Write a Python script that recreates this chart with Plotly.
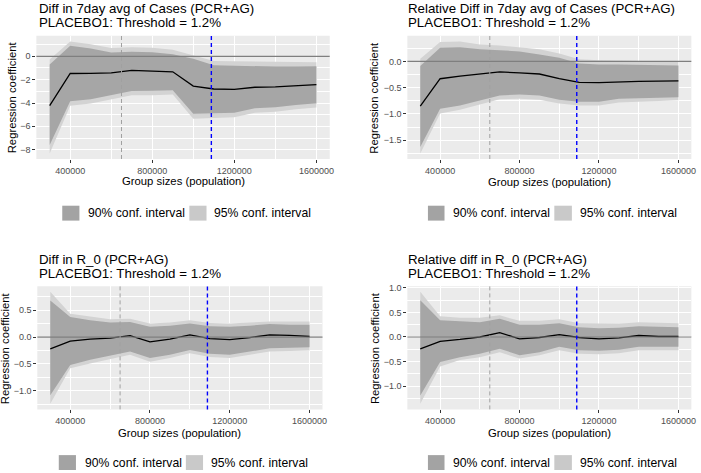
import plotly.graph_objects as go

# ---------------- data ----------------
group_sizes = [300000, 400000, 500000, 600000, 700000, 800000, 900000,
               1000000, 1100000, 1200000, 1300000, 1400000, 1500000, 1600000]

x_tick_vals = [400000, 800000, 1200000, 1600000]
grey_vline = 650000
blue_vline = 1088000

titles = ["Diff in 7day avg of Cases (PCR+AG)",
          "Relative Diff in 7day avg of Cases (PCR+AG)",
          "Diff in R_0 (PCR+AG)",
          "Relative diff in R_0 (PCR+AG)"]
subtitle = "PLACEBO1: Threshold = 1.2%"
x_title = "Group sizes (population)"
y_title = "Regression coefficient"
legend_labels = ["90% conf. interval", "95% conf. interval"]

# Panel 1: Diff in 7day avg of Cases
coef_1 = [-4.23, -1.47, -1.46, -1.41, -1.20, -1.26, -1.33, -2.55, -2.80, -2.83, -2.65, -2.62, -2.53, -2.42]
lo90_1 = [-7.60, -3.85, -3.68, -3.31, -2.97, -2.96, -2.90, -4.93, -4.90, -4.83, -4.45, -4.37, -4.18, -4.02]
hi90_1 = [-0.71, 0.90, 0.66, 0.33, 0.40, 0.36, 0.18, -0.21, -0.76, -0.80, -0.88, -0.88, -0.87, -0.85]
lo95_1 = [-8.32, -4.24, -4.05, -3.70, -3.34, -3.33, -3.28, -5.36, -5.29, -5.22, -4.84, -4.74, -4.53, -4.38]
hi95_1 = [-0.28, 1.28, 1.03, 0.72, 0.78, 0.74, 0.57, 0.12, -0.39, -0.43, -0.46, -0.48, -0.49, -0.50]

# Panel 2: Relative Diff in 7day avg of Cases
coef_2 = [-0.85, -0.33, -0.28, -0.24, -0.20, -0.22, -0.24, -0.33, -0.40, -0.405, -0.39, -0.38, -0.375, -0.37]
lo90_2 = [-1.63, -0.90, -0.84, -0.74, -0.65, -0.63, -0.65, -0.73, -0.77, -0.77, -0.71, -0.70, -0.69, -0.68]
hi90_2 = [-0.09, 0.26, 0.27, 0.23, 0.21, 0.19, 0.13, 0.07, -0.04, -0.06, -0.06, -0.07, -0.08, -0.08]
lo95_2 = [-1.75, -0.99, -0.92, -0.82, -0.72, -0.71, -0.73, -0.80, -0.84, -0.84, -0.78, -0.77, -0.76, -0.74]
hi95_2 = [0.05, 0.37, 0.38, 0.32, 0.30, 0.27, 0.23, 0.15, 0.04, 0.02, 0.01, 0.01, 0.00, 0.00]

# Panel 3: Diff in R_0
coef_3 = [-0.22, -0.075, -0.04, -0.02, 0.025, -0.09, -0.04, 0.04, -0.03, -0.05, -0.01, 0.04, 0.03, 0.01]
lo90_3 = [-1.08, -0.52, -0.42, -0.35, -0.27, -0.39, -0.33, -0.24, -0.31, -0.33, -0.27, -0.21, -0.20, -0.19]
hi90_3 = [0.68, 0.37, 0.31, 0.27, 0.28, 0.19, 0.21, 0.25, 0.20, 0.19, 0.21, 0.24, 0.23, 0.23]
lo95_3 = [-1.24, -0.58, -0.49, -0.41, -0.33, -0.46, -0.39, -0.30, -0.37, -0.39, -0.33, -0.27, -0.26, -0.25]
hi95_3 = [0.84, 0.43, 0.38, 0.33, 0.34, 0.25, 0.27, 0.31, 0.26, 0.25, 0.27, 0.29, 0.29, 0.29]

# Panel 4: Relative diff in R_0
coef_4 = [-0.24, -0.09, -0.05, 0.00, 0.09, -0.04, -0.01, 0.05, -0.01, -0.04, -0.02, 0.03, 0.01, 0.01]
lo90_4 = [-1.19, -0.51, -0.41, -0.34, -0.24, -0.37, -0.31, -0.20, -0.27, -0.28, -0.26, -0.20, -0.20, -0.20]
hi90_4 = [0.75, 0.34, 0.32, 0.30, 0.37, 0.25, 0.25, 0.28, 0.20, 0.18, 0.19, 0.22, 0.21, 0.20]
lo95_4 = [-1.36, -0.60, -0.47, -0.41, -0.31, -0.44, -0.37, -0.27, -0.34, -0.35, -0.33, -0.27, -0.27, -0.27]
hi95_4 = [0.92, 0.42, 0.39, 0.39, 0.44, 0.33, 0.33, 0.36, 0.28, 0.27, 0.27, 0.30, 0.29, 0.28]

series = [
    (coef_1, lo90_1, hi90_1, lo95_1, hi95_1),
    (coef_2, lo90_2, hi90_2, lo95_2, hi95_2),
    (coef_3, lo90_3, hi90_3, lo95_3, hi95_3),
    (coef_4, lo90_4, hi90_4, lo95_4, hi95_4),
]

# ---------------- layout geometry (pixels) ----------------
W, H = 701, 473
def px(v): return v / W
def py(v): return 1 - v / H

# plot panel boxes: left, right, top, bottom
boxes = [(36.6, 332.1, 33, 157), (410.3, 696.3, 33, 157),
         (37.6, 324.8, 285, 409), (410.3, 696.3, 285, 409)]
title_x = [37.5, 409.3, 37.5, 409.3]
title_y = [(5.8, 19.7), (5.8, 19.7), (258.5, 272.2), (258.3, 272.0)]
ytitle_x = [12, 377, 4.5, 377]
xtitle_y = [179.5, 180, 433, 433]
legend_y = [(204, 219), (204, 219), (455, 470), (455, 470)]
legend_x = [(62.7, 80, 86.7, 190.7, 208, 214),
            (431, 447.7, 454.3, 558.3, 576, 581.7),
            (59.2, 76.5, 83.2, 187.2, 204.5, 210.5),
            (431, 447.7, 454.3, 558.3, 576, 581.7)]
y_dtick = [2, 0.5, 0.5, 0.5]
y_fmt = ["d", ".1f", ".1f", ".1f"]

FONT = "Liberation Sans, Arial, sans-serif"
C_DARK = "#a6a6a6"
C_LIGHT = "#d3d3d3"
C_KEY_DARK = "#a3a3a3"
C_KEY_LIGHT = "#c9c9c9"
PANEL_BG = "#ebebeb"

fig = go.Figure()
shapes = []
annotations = []
layout_axes = {}

xmin, xmax = min(group_sizes), max(group_sizes)
xpad = 0.05 * (xmax - xmin)

for i, (coef, lo90, hi90, lo95, hi95) in enumerate(series):
    n = "" if i == 0 else str(i + 1)
    xa, ya = "x" + n, "y" + n
    l, r, t, b = boxes[i]

    ymin = min(lo95 + [0]); ymax = max(hi95 + [0])
    ypad = 0.05 * (ymax - ymin)

    common = dict(xaxis=xa, yaxis=ya, showlegend=False, hoverinfo="skip")
    fig.add_trace(go.Scatter(x=group_sizes, y=lo95, mode="lines", line=dict(width=0), **common))
    fig.add_trace(go.Scatter(x=group_sizes, y=hi95, mode="lines", line=dict(width=0),
                             fill="tonexty", fillcolor=C_LIGHT, **common))
    fig.add_trace(go.Scatter(x=group_sizes, y=lo90, mode="lines", line=dict(width=0), **common))
    fig.add_trace(go.Scatter(x=group_sizes, y=hi90, mode="lines", line=dict(width=0),
                             fill="tonexty", fillcolor=C_DARK, **common))
    fig.add_trace(go.Scatter(x=group_sizes, y=coef, mode="lines",
                             line=dict(color="black", width=1.3), **common))

    layout_axes["xaxis" + n] = dict(
        domain=[px(l), px(r)], anchor=ya, range=[xmin - xpad, xmax + xpad],
        tickmode="array", tickvals=x_tick_vals, tickformat="d",
        showgrid=True, gridcolor="white", gridwidth=1.1,
        minor=dict(dtick=200000, tick0=0, showgrid=True, gridcolor="white",
                   gridwidth=0.5, ticks=""),
        ticks="outside", ticklen=3, tickcolor="#333333", tickwidth=1,
        tickfont=dict(family=FONT, size=9, color="#4d4d4d"),
        zeroline=False, showline=False, fixedrange=True)
    layout_axes["yaxis" + n] = dict(
        domain=[py(b), py(t)], anchor=xa, range=[ymin - ypad, ymax + ypad],
        dtick=y_dtick[i], tick0=0, tickformat=y_fmt[i],
        showgrid=True, gridcolor="white", gridwidth=1.1,
        minor=dict(dtick=y_dtick[i] / 2, tick0=0, showgrid=True, gridcolor="white",
                   gridwidth=0.5, ticks=""),
        ticks="outside", ticklen=3, tickcolor="#333333", tickwidth=1,
        tickfont=dict(family=FONT, size=9, color="#4d4d4d"),
        zeroline=False, showline=False, fixedrange=True)

    # panel background
    shapes.append(dict(type="rect", xref="paper", yref="paper",
                       x0=px(l), x1=px(r), y0=py(b), y1=py(t),
                       fillcolor=PANEL_BG, line=dict(width=0), layer="below"))
    # reference lines
    shapes.append(dict(type="line", xref=xa + " domain", yref=ya, x0=0, x1=1, y0=0, y1=0,
                       line=dict(color="#7f7f7f", width=1.2), layer="above"))
    shapes.append(dict(type="line", xref=xa, yref=ya + " domain", x0=grey_vline, x1=grey_vline,
                       y0=0, y1=1, line=dict(color="#a0a0a0", width=1, dash="4px,3px"),
                       layer="above"))
    shapes.append(dict(type="line", xref=xa, yref=ya + " domain", x0=blue_vline, x1=blue_vline,
                       y0=0, y1=1, line=dict(color="blue", width=1.4, dash="4px,3px"),
                       layer="above"))

    # titles
    annotations.append(dict(text=titles[i], x=px(title_x[i]), y=py(title_y[i][0]),
                            xref="paper", yref="paper", xanchor="left", yanchor="middle",
                            showarrow=False, font=dict(family=FONT, size=13.3, color="black")))
    annotations.append(dict(text=subtitle, x=px(title_x[i]), y=py(title_y[i][1]),
                            xref="paper", yref="paper", xanchor="left", yanchor="middle",
                            showarrow=False, font=dict(family=FONT, size=13.3, color="black")))
    # axis titles
    annotations.append(dict(text=y_title, x=px(ytitle_x[i]), y=py((t + b) / 2),
                            xref="paper", yref="paper", xanchor="center", yanchor="middle",
                            textangle=-90, showarrow=False,
                            font=dict(family=FONT, size=11.3, color="black")))
    annotations.append(dict(text=x_title, x=px((l + r) / 2), y=py(xtitle_y[i]),
                            xref="paper", yref="paper", xanchor="center", yanchor="middle",
                            showarrow=False, font=dict(family=FONT, size=11.3, color="black")))
    # legend (manual)
    k1l, k1r, t1, k2l, k2r, t2 = legend_x[i]
    ky0, ky1 = legend_y[i]
    shapes.append(dict(type="rect", xref="paper", yref="paper", x0=px(k1l), x1=px(k1r),
                       y0=py(ky1), y1=py(ky0), fillcolor=C_KEY_DARK, line=dict(width=0)))
    shapes.append(dict(type="rect", xref="paper", yref="paper", x0=px(k2l), x1=px(k2r),
                       y0=py(ky1), y1=py(ky0), fillcolor=C_KEY_LIGHT, line=dict(width=0)))
    annotations.append(dict(text=legend_labels[0], x=px(t1), y=py((ky0 + ky1) / 2),
                            xref="paper", yref="paper", xanchor="left", yanchor="middle",
                            showarrow=False, font=dict(family=FONT, size=12.2, color="black")))
    annotations.append(dict(text=legend_labels[1], x=px(t2), y=py((ky0 + ky1) / 2),
                            xref="paper", yref="paper", xanchor="left", yanchor="middle",
                            showarrow=False, font=dict(family=FONT, size=12.2, color="black")))

fig.update_layout(
    width=W, height=H, margin=dict(l=0, r=0, t=0, b=0),
    paper_bgcolor="white", plot_bgcolor="rgba(0,0,0,0)",
    showlegend=False, shapes=shapes, annotations=annotations,
    font=dict(family=FONT),
    **layout_axes)

fig.write_html("out.html", config={"displayModeBar": False},
               post_script="document.body.style.margin='0';document.body.style.overflow='hidden';")
